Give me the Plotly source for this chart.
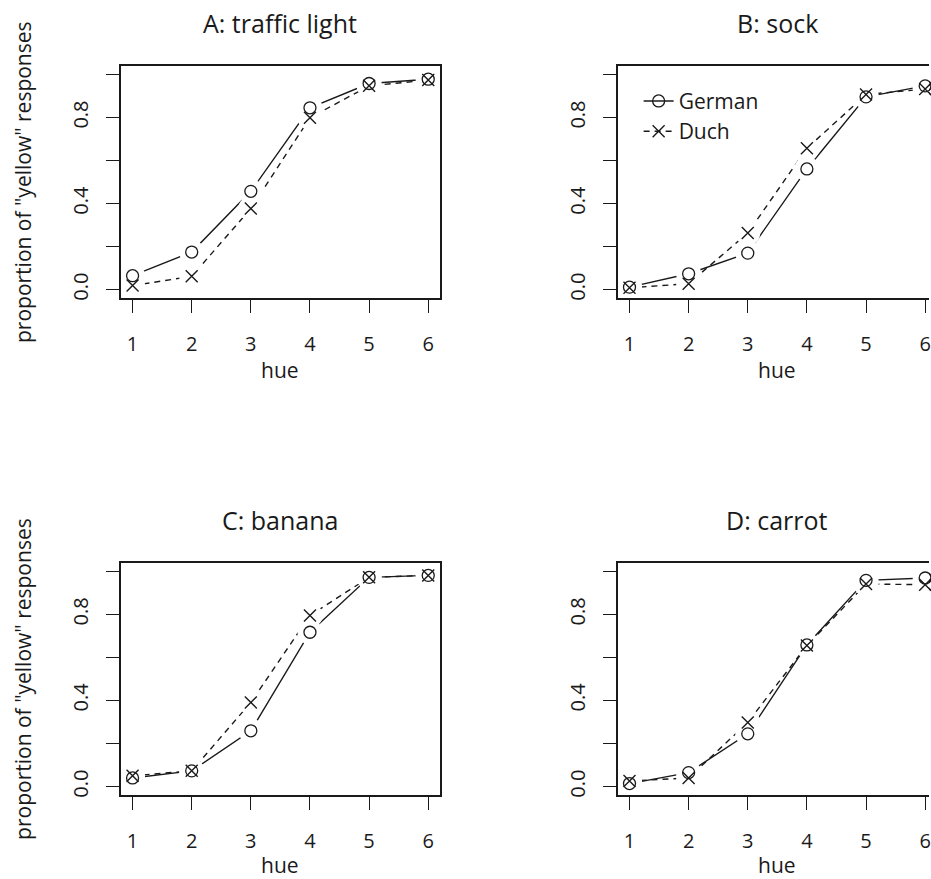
import plotly.graph_objects as go

hue = [1, 2, 3, 4, 5, 6]
panel_titles = ["A: traffic light", "B: sock", "C: banana", "D: carrot"]
A_german = [0.065, 0.175, 0.457, 0.845, 0.958, 0.978]
A_dutch = [0.019, 0.062, 0.377, 0.799, 0.947, 0.974]
B_german = [0.012, 0.074, 0.170, 0.561, 0.896, 0.947]
B_dutch = [0.009, 0.028, 0.263, 0.657, 0.907, 0.932]
C_german = [0.040, 0.073, 0.259, 0.717, 0.972, 0.981]
C_dutch = [0.050, 0.073, 0.391, 0.795, 0.972, 0.981]
D_german = [0.014, 0.065, 0.245, 0.658, 0.958, 0.969]
D_dutch = [0.026, 0.040, 0.298, 0.655, 0.941, 0.938]
series_names = ["German", "Duch"]
y_tickvals = [0.0, 0.2, 0.4, 0.6, 0.8, 1.0]
y_ticktext = ["0.0", "", "0.4", "", "0.8", ""]
x_label = "hue"
y_label = 'proportion of "yellow" responses'

W, H = 931, 879
FONT = "Open Sans"
INK = "#1a1a1a"

panels = [
    (A_german, A_dutch),
    (B_german, B_dutch),
    (C_german, C_dutch),
    (D_german, D_dutch),
]

# pixel layout of the plot boxes
box_x = [(121, 441), (619, 931), (121, 441), (619, 931)]
box_y = [(66, 299), (66, 299), (564, 797), (564, 797)]
x_ranges = [[0.8, 6.2], [0.8, 0.8 + 312 / 59.26], [0.8, 6.2], [0.8, 0.8 + 312 / 59.26]]
hue_label_offset = [84, 84, 82, 82]

fig = go.Figure()

for i, (ger, dut) in enumerate(panels):
    n = "" if i == 0 else str(i + 1)
    xa, ya = "x" + n, "y" + n
    show_leg = (i == 1)
    # lines (with markers, legend carrier)
    fig.add_trace(go.Scatter(
        x=hue, y=ger, xaxis=xa, yaxis=ya, mode="lines+markers", name=series_names[0],
        line=dict(color=INK, width=1.4),
        marker=dict(symbol="circle-open", size=12, color=INK, line=dict(width=1.3)),
        showlegend=show_leg, legendrank=1, cliponaxis=False))
    fig.add_trace(go.Scatter(
        x=hue, y=dut, xaxis=xa, yaxis=ya, mode="lines+markers", name=series_names[1],
        line=dict(color=INK, width=1.4, dash="6px,5px"),
        marker=dict(symbol="x-thin-open", size=12, color=INK, line=dict(width=1.4, color=INK)),
        showlegend=show_leg, legendrank=2, cliponaxis=False))
    # white gaps around points (as in type="b")
    fig.add_trace(go.Scatter(
        x=hue + hue, y=ger + dut, xaxis=xa, yaxis=ya, mode="markers",
        marker=dict(symbol="circle", size=25, color="white", line=dict(width=0)),
        showlegend=False, hoverinfo="skip"))
    # redraw points on top
    fig.add_trace(go.Scatter(
        x=hue, y=ger, xaxis=xa, yaxis=ya, mode="markers",
        marker=dict(symbol="circle-open", size=12, color=INK, line=dict(width=1.3)),
        showlegend=False, cliponaxis=False))
    fig.add_trace(go.Scatter(
        x=hue, y=dut, xaxis=xa, yaxis=ya, mode="markers",
        marker=dict(symbol="x-thin-open", size=12, color=INK, line=dict(width=1.4, color=INK)),
        showlegend=False, cliponaxis=False))

layout = dict(
    width=W, height=H,
    margin=dict(l=0, r=0, t=0, b=0),
    paper_bgcolor="white", plot_bgcolor="white",
    font=dict(family=FONT, color=INK, size=20),
    showlegend=True,
    legend=dict(
        x=640 / W, y=1 - 81 / H, xanchor="left", yanchor="top",
        bgcolor="rgba(0,0,0,0)", borderwidth=0,
        font=dict(family=FONT, size=21, color=INK),
        tracegroupgap=0, itemsizing="trace",
    ),
)

annotations = []
for i in range(4):
    n = "" if i == 0 else str(i + 1)
    x0, x1 = box_x[i]
    y0, y1 = box_y[i]
    right_cut = (i % 2 == 1)
    layout["xaxis" + n] = dict(
        domain=[x0 / W, x1 / W], range=x_ranges[i], anchor="y" + n,
        tickvals=hue, ticktext=[str(h) for h in hue],
        ticks="outside", ticklen=13, tickwidth=1.4, tickcolor=INK,
        showline=True, linecolor=INK, linewidth=1.5, mirror=True,
        showgrid=False, zeroline=False, fixedrange=True,
        tickfont=dict(family=FONT, size=20, color=INK),
        ticklabelstandoff=14, ticklabeloverflow="allow",
    )
    layout["yaxis" + n] = dict(
        domain=[1 - y1 / H, 1 - y0 / H], range=[-0.04, 1.04], anchor="x" + n,
        tickvals=y_tickvals, ticktext=y_ticktext, tickangle=-90,
        ticks="outside", ticklen=13, tickwidth=1.4, tickcolor=INK,
        showline=True, linecolor=INK, linewidth=1.5, mirror=(not right_cut),
        showgrid=False, zeroline=False, fixedrange=True,
        tickfont=dict(family=FONT, size=20, color=INK),
        ticklabelstandoff=10,
    )
    cx = (x0 + 320 / 2) / W
    annotations.append(dict(
        text=panel_titles[i], xref="paper", yref="paper",
        x=cx, y=1 - (y0 - 43) / H, xanchor="center", yanchor="middle",
        showarrow=False, font=dict(family=FONT, size=25, color=INK)))
    annotations.append(dict(
        text=x_label, xref="paper", yref="paper",
        x=cx, y=1 - (y1 + hue_label_offset[i]) / H, xanchor="center", yanchor="bottom",
        height=20, valign="middle",
        showarrow=False, font=dict(family=FONT, size=21, color=INK)))
    if not right_cut:
        annotations.append(dict(
            text=y_label, xref="paper", yref="paper",
            x=23 / W, y=1 - ((y0 + y1) / 2) / H, xanchor="center", yanchor="middle",
            textangle=-90, showarrow=False, font=dict(family=FONT, size=21, color=INK)))

layout["annotations"] = annotations
fig.update_layout(**layout)
fig.write_html(
    "out.html",
    config={"displayModeBar": False},
    post_script=(
        "document.body.style.margin='0';document.body.style.padding='0';"
        "document.documentElement.style.overflow='hidden';"
    ),
)
